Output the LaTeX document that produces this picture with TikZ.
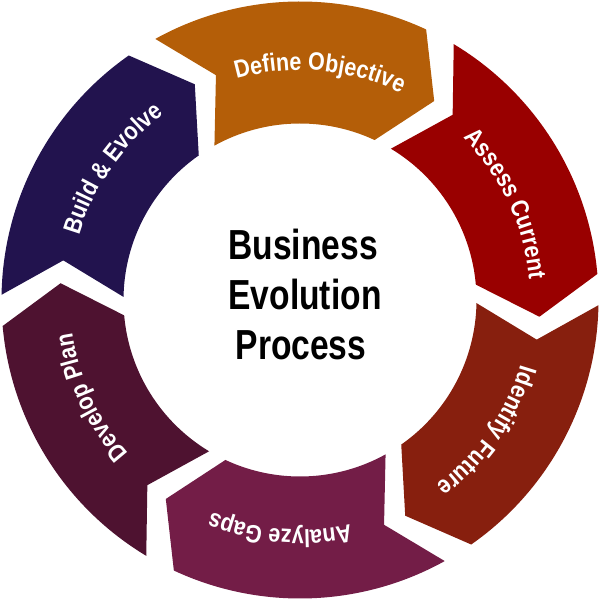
\documentclass[tikz,border=0pt]{standalone}
\usepackage{fontspec}
\setmainfont{Liberation Sans}
\newfontfamily\segfont{Liberation Sans}[FakeStretch=0.86]
\newfontfamily\ctrfont{Liberation Sans}[FakeStretch=0.80]
\usetikzlibrary{decorations.text}
\definecolor{cDO}{HTML}{B45E08}
\definecolor{cAC}{HTML}{990000}
\definecolor{cIF}{HTML}{871F0E}
\definecolor{cAG}{HTML}{731D47}
\definecolor{cDP}{HTML}{4E1230}
\definecolor{cBE}{HTML}{22134E}
\newcommand\segstyle{\segfont\bfseries\fontsize{25pt}{30pt}\selectfont\color{white}}
\tikzset{
  seglabel/.style={decorate, decoration={text along path, text align=center, text={#1}}},
  ctrline/.style={anchor=base, inner sep=0pt, font=\ctrfont\bfseries\fontsize{42pt}{50pt}\selectfont, text=black}
}
\begin{document}
\begin{tikzpicture}[x=1pt,y=1pt]
\useasboundingbox (0,0) rectangle (600,599);
\begin{scope}[shift={(300,299)}]
\foreach \k/\col in {0/cDO,1/cAC,2/cIF,3/cAG,4/cDP,5/cBE}{
  \pgfmathsetmacro\ts{119-60*\k}
  \pgfmathsetmacro\te{65-60*\k}
  \pgfmathsetmacro\tp{\te-9}
  \pgfmathsetmacro\tn{\ts-8.5}
  \fill[\col] (\ts:298.5pt) arc[start angle=\ts, end angle=\te, radius=298.5pt]
    -- (\tp:240pt) -- (\te:176.5pt)
    arc[start angle=\te, end angle=\ts, radius=176.5pt]
    -- (\tn:240pt) -- cycle;
}
\path[seglabel={|\segstyle|Define Objective}] (125:230pt) arc[start angle=125, end angle=45, radius=230pt];
\path[seglabel={|\segstyle|Assess Current}] (65:230pt) arc[start angle=65, end angle=-15, radius=230pt];
\path[seglabel={|\segstyle|Identify Future}] (5:230pt) arc[start angle=5, end angle=-75, radius=230pt];
\path[seglabel={|\segstyle|Analyze Gaps}] (-55:230pt) arc[start angle=-55, end angle=-135, radius=230pt];
\path[seglabel={|\segstyle|Develop Plan}] (-115:230pt) arc[start angle=-115, end angle=-195, radius=230pt];
\path[seglabel={|\segstyle|Build {\&} Evolve}] (185:230pt) arc[start angle=185, end angle=105, radius=230pt];
\end{scope}
\node[ctrline] (t1) at (303,339) {Business};
\node[ctrline] (t2) at (305,289) {Evolution};
\node[ctrline] (t3) at (301,239) {Process};
\end{tikzpicture}
\end{document}
